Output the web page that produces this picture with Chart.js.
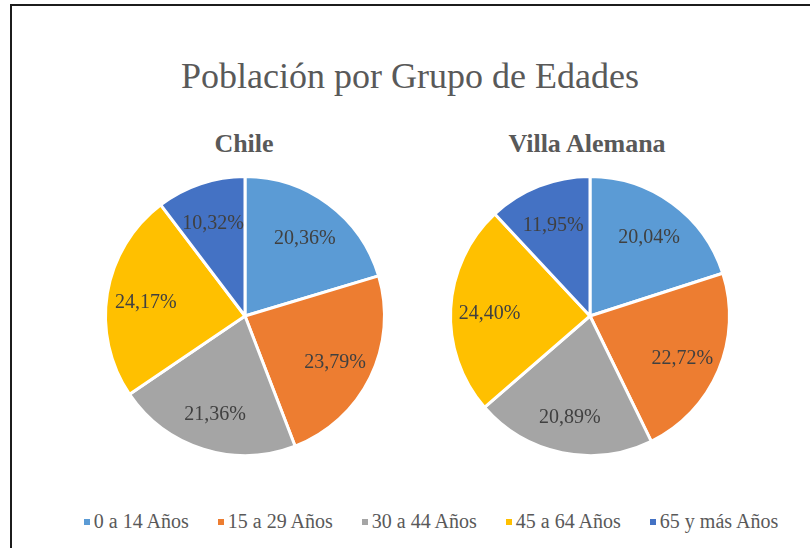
<!DOCTYPE html>
<html lang="es">
<head>
<meta charset="utf-8">
<title>Población por Grupo de Edades</title>
<script src="https://cdn.jsdelivr.net/npm/chart.js@4.4.1/dist/chart.umd.min.js"></script>
<style>
    html, body { margin: 0; padding: 0; background: #fff; }
    #wrap { position: relative; width: 810px; height: 548px; overflow: hidden; font-family: "Liberation Serif", "Times New Roman", Times, "DejaVu Serif", serif; }
    #frame { position: absolute; left: 10px; top: 4px; width: 820px; height: 560px; border-top: 2px solid #1c1c1c; border-left: 2px solid #1c1c1c; }
    #title { position: absolute; left: 0; width: 820px; top: 58px; text-align: center; font-size: 36px; color: #595959; line-height: 1; }
    .sub { position: absolute; top: 131px; width: 300px; text-align: center; font-size: 26px; font-weight: bold; color: #595959; line-height: 1; }
    .pie { position: absolute; top: 166px; width: 300px; height: 300px; }
    #legend { position: absolute; left: 0; width: 862px; top: 510px; display: flex; justify-content: center; gap: 29px; font-size: 20px; color: #595959; }
    #legend span.item { display: flex; align-items: center; white-space: nowrap; }
    #legend i { display: inline-block; width: 6px; height: 6px; margin-right: 4px; }
</style>
</head>
<body>
<div id="wrap">
    <div id="frame"></div>
    <div id="title">Población por Grupo de Edades</div>
    <div class="sub" style="left:94px">Chile</div>
    <div class="sub" style="left:437px">Villa Alemana</div>
    <canvas id="chile-chart" class="pie" style="left:95px" width="300" height="300"></canvas>
    <canvas id="villa-chart" class="pie" style="left:440px" width="300" height="300"></canvas>
    <div id="legend"></div>
</div>
<script>
// Datos de la gráfica
const grupos = ['0 a 14 Años', '15 a 29 Años', '30 a 44 Años', '45 a 64 Años', '65 y más Años'];
const chileValores = [20.36, 23.79, 21.36, 24.17, 10.32];
const villaValores = [20.04, 22.72, 20.89, 24.40, 11.95];
const colores = ['#5B9BD5', '#ED7D31', '#A5A5A5', '#FFC000', '#4472C4'];

// Etiquetas de porcentaje dentro de cada porción
const etiquetasPlugin = {
    id: 'etiquetas',
    afterDatasetsDraw(chart) {
        const ctx = chart.ctx;
        const meta = chart.getDatasetMeta(0);
        const valores = chart.data.datasets[0].data;
        ctx.save();
        ctx.font = '20px "Liberation Serif", "Times New Roman", serif';
        ctx.fillStyle = '#404040';
        ctx.textAlign = 'center';
        ctx.textBaseline = 'middle';
        meta.data.forEach((arc, i) => {
            const p = arc.getProps(['x', 'y', 'startAngle', 'endAngle', 'outerRadius'], true);
            const mid = (p.startAngle + p.endAngle) / 2;
            const r = p.outerRadius * 0.72;
            const texto = valores[i].toFixed(2).replace('.', ',') + '%';
            ctx.fillText(texto, p.x + Math.cos(mid) * r, p.y + Math.sin(mid) * r + 3);
        });
        ctx.restore();
    }
};

function crearTorta(id, valores) {
    return new Chart(document.getElementById(id), {
        type: 'pie',
        data: {
            labels: grupos,
            datasets: [{
                data: valores,
                backgroundColor: colores,
                borderColor: '#ffffff',
                borderWidth: 3
            }]
        },
        options: {
            responsive: false,
            animation: false,
            layout: { padding: 9 },
            plugins: {
                legend: { display: false },
                tooltip: { enabled: false }
            }
        },
        plugins: [etiquetasPlugin]
    });
}

crearTorta('chile-chart', chileValores);
crearTorta('villa-chart', villaValores);

// Leyenda común
const leyenda = document.getElementById('legend');
grupos.forEach((g, i) => {
    const item = document.createElement('span');
    item.className = 'item';
    const marca = document.createElement('i');
    marca.style.background = colores[i];
    item.appendChild(marca);
    item.appendChild(document.createTextNode(g));
    leyenda.appendChild(item);
});
</script>
</body>
</html>
